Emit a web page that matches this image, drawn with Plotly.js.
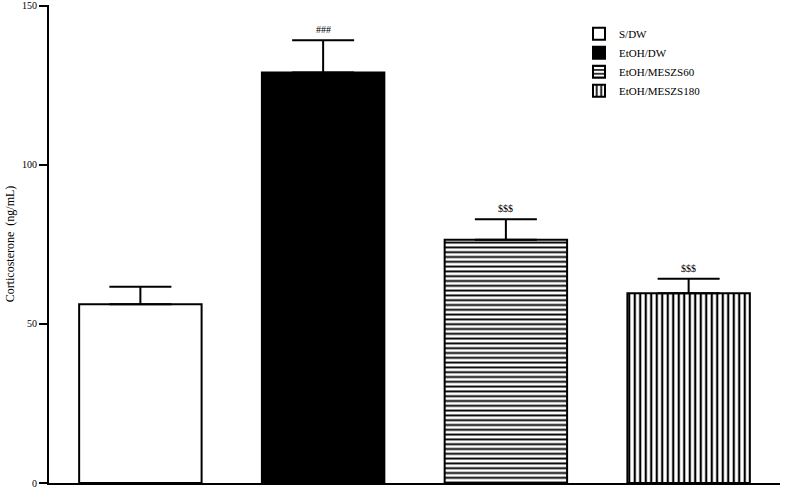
<!DOCTYPE html>
<html>
<head>
<meta charset="utf-8">
<script src="https://cdn.plot.ly/plotly-3.0.1.min.js"></script>
<style>html,body{margin:0;padding:0;background:#fff;}#chart{width:787px;height:489px;}</style>
</head>
<body>
<div id="chart"></div>
<script>
const groups = ["S/DW", "EtOH/DW", "EtOH/MESZS60", "EtOH/MESZS180"];
const means = [56.2, 129.0, 76.4, 59.6];
const sems = [5.5, 10.1, 6.5, 4.6];
const sigLabels = ["", "###", "$$$", "$$$"];
const yTicks = [0, 50, 100, 150];

const FONT = "Liberation Serif, Times New Roman, serif";
const fills = [
  {color: "white"},
  {color: "black"},
  {color: "white", pattern: {shape: "-", size: 4.8, solidity: 0.4, fgcolor: "black", bgcolor: "white"}},
  {color: "white", pattern: {shape: "|", size: 5.5, solidity: 0.4, fgcolor: "black", bgcolor: "white"}}
];

const traces = groups.map((g, i) => ({
  type: "bar",
  name: g,
  x: [g],
  y: [means[i]],
  width: 0.67,
  marker: Object.assign({line: {color: "black", width: 2}}, fills[i]),
  error_y: {type: "data", symmetric: false, array: [sems[i]], arrayminus: [0],
            color: "black", thickness: 2, width: 31},
  hoverinfo: "skip"
}));

const annotations = groups.map((g, i) => ({
  x: g, y: means[i] + sems[i], xref: "x", yref: "y",
  text: sigLabels[i], showarrow: false, yanchor: "bottom", yshift: 3,
  font: {family: FONT, size: 10, color: "black"}
})).filter(a => a.text);

const layout = {
  width: 787, height: 489,
  margin: {l: 49, r: 7, t: 5, b: 6},
  paper_bgcolor: "white", plot_bgcolor: "white",
  barmode: "overlay",
  showlegend: true,
  legend: {x: 0.725, y: 0.97, xanchor: "left", yanchor: "top",
           font: {family: FONT, size: 11, color: "black"}, bgcolor: "rgba(0,0,0,0)"},
  xaxis: {type: "category", categoryarray: groups, range: [-0.5, 3.5],
          showline: true, linecolor: "black", linewidth: 2, showticklabels: false,
          ticks: "", showgrid: false, zeroline: false, fixedrange: true},
  yaxis: {range: [0, 150.2], tickmode: "array", tickvals: yTicks, ticktext: yTicks.map(String),
          showline: true, linecolor: "black", linewidth: 2, ticks: "outside",
          ticklen: 8, tickwidth: 2, tickcolor: "black", showgrid: false, zeroline: false,
          tickfont: {family: FONT, size: 10, color: "black"},
          title: {text: "Corticosterone  (ng/mL)", font: {family: FONT, size: 12, color: "black"}, standoff: 5}},
  annotations: annotations
};

Plotly.newPlot("chart", traces, layout, {staticPlot: true, displayModeBar: false});
</script>
</body>
</html>
